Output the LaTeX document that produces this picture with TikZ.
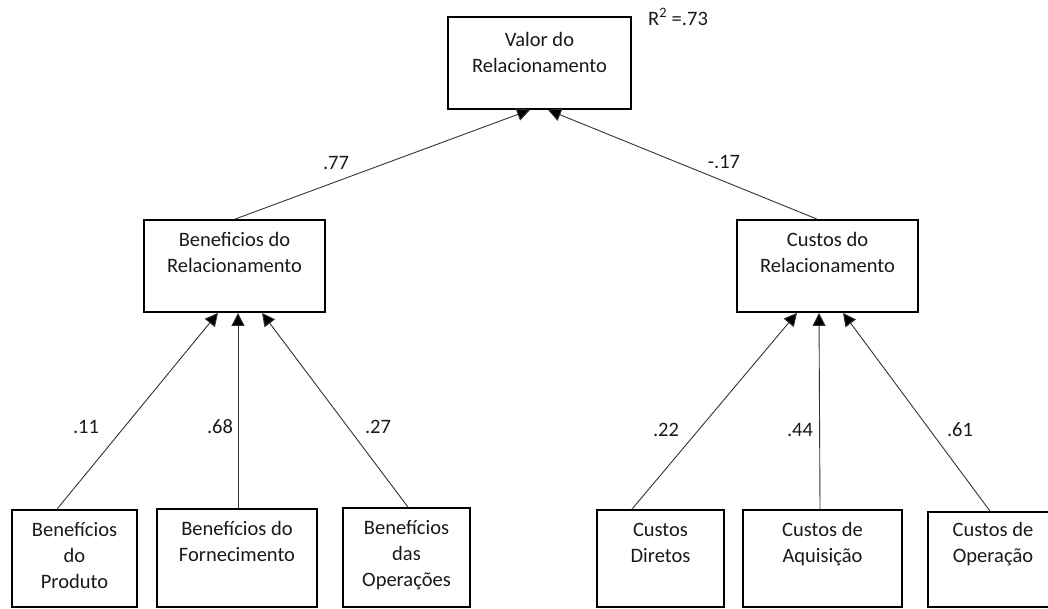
\documentclass[tikz,border=0pt]{standalone}
\usepackage{fontspec}
\setmainfont{Carlito}
\usetikzlibrary{arrows.meta}
\newcommand{\Tstr}{\rule{0pt}{15pt}}
\begin{document}
\begin{tikzpicture}[x=1pt,y=-1pt,
  box/.style={draw=black,line width=1.8pt,inner sep=0pt,minimum width=#1},
  lbl/.style={font=\fontsize{20.5}{26}\selectfont,text=black!90,inner sep=0pt,anchor=north,align=center},
  num/.style={font=\fontsize{20.5}{26}\selectfont,text=black!90,inner sep=0pt,anchor=base},
  arr/.style={line width=0.9pt,draw=black!80,-{Triangle[length=13pt,width=13pt,fill=black]}}
]
\useasboundingbox (0,0) rectangle (1048,608);
% boxes
\node[box=183pt,minimum height=92pt] (top) at (539.5,63) {};
\node[box=181pt,minimum height=92pt] (ml) at (234.5,266) {};
\node[box=181pt,minimum height=92pt] (mr) at (827.5,266) {};
\node[box=125pt,minimum height=97pt] (b1) at (74.5,558.5) {};
\node[box=160pt,minimum height=98pt] (b2) at (237,558) {};
\node[box=127pt,minimum height=99pt] (b3) at (406.5,557.5) {};
\node[box=127pt,minimum height=97pt] (b4) at (660.5,558.5) {};
\node[box=159pt,minimum height=97pt] (b5) at (822.5,558.5) {};
\node[box=130pt,minimum height=95pt] (b6) at (993,559.5) {};
% texts
\node[lbl,yshift=-15pt] (ttop) at (top.north) {\Tstr Valor do\\Relacionamento};
\node[lbl,yshift=-12pt] (tml) at (ml.north) {\Tstr Beneficios do\\Relacionamento};
\node[lbl,yshift=-12pt] (tmr) at (mr.north) {\Tstr Custos do\\Relacionamento};
\node[lbl,yshift=-12pt] (tb1) at (b1.north) {\Tstr Benefícios\\do\\Produto};
\node[lbl,yshift=-12pt] (tb2) at (b2.north) {\Tstr Benefícios do\\Fornecimento};
\node[lbl,yshift=-12pt] (tb3) at (b3.north) {\Tstr Benefícios\\das\\Operações};
\node[lbl,yshift=-12pt] (tb4) at (b4.north) {\Tstr Custos\\Diretos};
\node[lbl,yshift=-12pt] (tb5) at (b5.north) {\Tstr Custos de\\Aquisição};
\node[lbl,yshift=-10pt] (tb6) at (b6.north) {\Tstr Custos de\\Operação};
\node[num,anchor=base west] (r2) at (648,25) {R\textsuperscript{2} =.73};
% connectors
\draw[arr] ([xshift=0.5pt]ml.north) -- ([xshift=-9.5pt]top.south);
\draw[arr] ([xshift=-10.5pt]mr.north) -- ([xshift=8.5pt]top.south);
\draw[arr] ([xshift=-17.5pt]b1.north) -- ([xshift=-16.5pt]ml.south);
\draw[arr] ([xshift=1pt]b2.north) -- ([xshift=3.5pt]ml.south);
\draw[arr] ([xshift=1.5pt]b3.north) -- ([xshift=27.5pt]ml.south);
\draw[arr] ([xshift=-28.5pt]b4.north) -- ([xshift=-30.5pt]mr.south);
\draw[arr] ([xshift=-2.5pt]b5.north) -- ([xshift=-8.5pt]mr.south);
\draw[arr] ([xshift=-3pt]b6.north) -- ([xshift=15.5pt]mr.south);
% coefficients
\node[num] (c1) at (336,169) {.77};
\node[num] (c2) at (724,168) {-.17};
\node[num] (c3) at (86,433) {.11};
\node[num] (c4) at (220,433) {.68};
\node[num] (c5) at (378,433) {.27};
\node[num] (c6) at (666,436) {.22};
\node[num] (c7) at (800,436) {.44};
\node[num] (c8) at (960,436) {.61};
\end{tikzpicture}
\end{document}
